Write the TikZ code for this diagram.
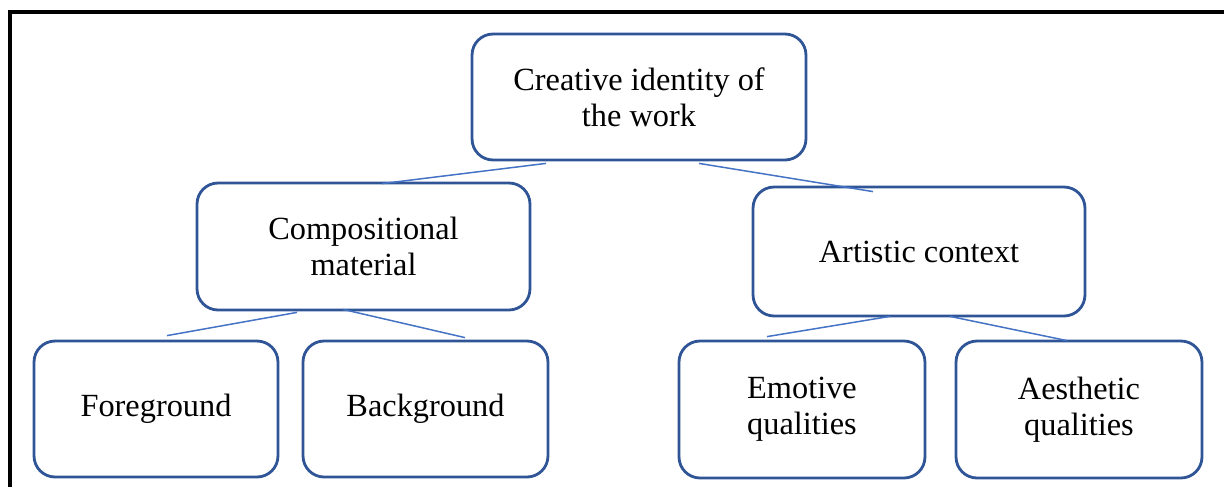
\documentclass[tikz,border=0pt]{standalone}
\usepackage{fontspec}
\setmainfont{Liberation Serif}
\usepackage{xcolor}
\usepackage{tikz}
\usetikzlibrary{positioning, calc}
\definecolor{boxblue}{HTML}{2F5597}
\definecolor{linkblue}{HTML}{4472C4}
\tikzset{
  card/.style={draw=boxblue, fill=white, rounded corners=0.42cm, line width=1.6pt,
               font=\fontsize{18.4}{20.6}\selectfont, align=center, inner sep=2pt},
  link/.style={linkblue, line width=0.85pt},
}

\begin{document}
\begin{tikzpicture}[x=0.02cm, y=-0.02cm]
  \useasboundingbox (0,0) rectangle (1224,487);
  % frame
  \draw[black, line width=2pt] (10,487) -- (10,12) -- (1224,12);
  % top level
  \node[card, minimum width=6.68cm, minimum height=2.52cm] (top) at (639,97) {Creative identity of\\the work};
  % second level
  \node[card, minimum width=6.66cm, minimum height=2.54cm] (comp) at (363.5,246.5) {Compositional\\material};
  \node[card, minimum width=6.64cm, minimum height=2.58cm] (art) at (919,251.5) {Artistic context};
  % third level
  \node[card, minimum width=4.88cm, minimum height=2.72cm] (fg) at (156,409) {Foreground};
  \node[card, minimum width=4.9cm, minimum height=2.72cm] (bg) at (425.5,409) {Background};
  \node[card, minimum width=4.92cm, minimum height=2.74cm] (emo) at (802,409.5) {Emotive\\qualities};
  \node[card, minimum width=4.92cm, minimum height=2.74cm] (aes) at (1079,409.5) {Aesthetic\\qualities};
  % links
  \draw[link] ([xshift=-1.86cm, yshift=-0.04cm]top.south) -- ([xshift=0.37cm, yshift=-0.04cm]comp.north);
  \draw[link] ([xshift=1.2cm, yshift=-0.04cm]top.south) -- ([xshift=-0.92cm, yshift=-0.12cm]art.north);
  \draw[link] ([xshift=-1.33cm, yshift=-0.02cm]comp.south) -- ([xshift=0.22cm, yshift=0.08cm]fg.north);
  \draw[link] ([xshift=-0.41cm, yshift=0.04cm]comp.south) -- ([xshift=0.79cm, yshift=0.04cm]bg.north);
  \draw[link] ([xshift=-0.58cm, yshift=0.02cm]art.south) -- ([xshift=-0.7cm, yshift=0.06cm]emo.north);
  \draw[link] ([xshift=0.62cm, yshift=0.02cm]art.south) -- ([xshift=-0.24cm, yshift=-0.02cm]aes.north);
\end{tikzpicture}
\end{document}
